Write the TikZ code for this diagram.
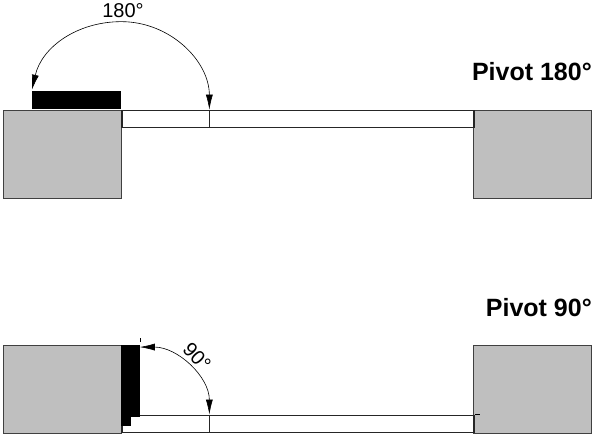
\documentclass[tikz,border=0pt]{standalone}
\usepackage{fontspec}
\setmainfont{Liberation Sans}
\usetikzlibrary{positioning,arrows.meta}

\tikzset{
	wall/.style={draw=black!75,fill=black!25,line width=0.7pt,minimum width=118pt,minimum height=88pt,inner sep=0pt},
	leaf/.style={draw=black!85,fill=white,line width=1.3pt,minimum width=352pt,minimum height=17.5pt,inner sep=0pt},
	panel/.style={fill=black,inner sep=0pt},
	angletext/.style={font=\fontsize{20}{20}\selectfont,inner sep=0pt},
	titletext/.style={font=\fontsize{25}{25}\selectfont\bfseries,inner sep=0pt}
}

\begin{document}
\begin{tikzpicture}[x=1pt,y=-1pt,on grid,>={Latex[length=15pt,width=7pt]}]
		\useasboundingbox (0,0) rectangle (600,437);
		% walls
		\node[wall] (wall_a) at (62,154) {};
		\node[wall] (wall_b) [right=470pt of wall_a] {};
		\node[wall] (wall_c) [below=235pt of wall_a] {};
		\node[wall] (wall_d) [right=470pt of wall_c] {};
		% door leaves
		\node[leaf,anchor=north west] (leaf_a) at (wall_a.north east) {};
		\node[leaf,anchor=south west] (leaf_b) at (wall_c.south east) {};
		% black panels
		\node[panel,minimum width=89pt,minimum height=18pt,anchor=south east] (panel_a) at (wall_a.north east) {};
		\node[panel,minimum width=19pt,minimum height=72pt,anchor=north west,xshift=-1pt] (panel_b) at (wall_c.north east) {};
		\node[panel,minimum width=10pt,minimum height=9pt,anchor=north west] (step_b) at (panel_b.south west) {};
		% pivots
		\coordinate[right=88pt of leaf_a.north west] (pivot_a);
		\coordinate[below=17.5pt of pivot_a] (foot_a);
		\coordinate[above=88pt of wall_a.north east] (apex_a);
		\coordinate[above=20pt of panel_a.south west] (end_a);
		\coordinate[right=88pt of leaf_b.north west] (pivot_b);
		\coordinate[below=17.5pt of pivot_b] (foot_b);
		\coordinate[above=70pt of panel_b.south east] (apex_b);
		% small marks
		\coordinate[above=5pt of apex_b] (mark_b);
		\coordinate[above=4pt of mark_b] (mark_c);
		\coordinate[right=5pt of leaf_b.north east] (over_b);
		
		\draw[line width=1.3pt,draw=black!85] (pivot_a) -- (foot_a);
		\draw[line width=1.3pt,draw=black!85] (pivot_b) -- (foot_b);
		\draw[line width=0.5pt] (mark_b) -- (mark_c);
		\draw[line width=0.5pt] (leaf_b.north east) -- (over_b);
		
		\draw[<->,line width=0.6pt] (pivot_a) to[out=90,in=0] (apex_a) to[out=180,in=77] (end_a);
		\draw[<->,line width=0.6pt] (pivot_b) to[out=90,in=0] (apex_b);
		
		% labels
		\node[angletext] (label_a) at (123,11) {180°};
		\node[angletext,rotate=-47] (label_b) at (197,357) {90°};
		\node[titletext,anchor=east] (title_a) at (592,72) {Pivot 180°};
		\node[titletext,anchor=east] (title_b) at (592,308) {Pivot 90°};
	\end{tikzpicture}
\end{document}
